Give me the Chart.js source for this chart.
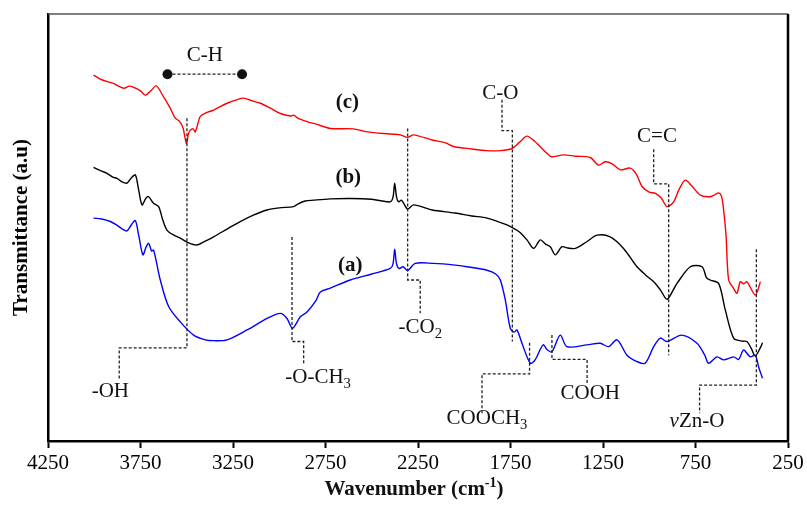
<!DOCTYPE html>
<html>
<head>
<meta charset="utf-8">
<script src="https://cdn.jsdelivr.net/npm/chart.js@4.4.0/dist/chart.umd.min.js"></script>
<style>
  html, body { margin: 0; padding: 0; background: #fff; }
  #wrap { width: 807px; height: 508px; }
</style>
</head>
<body>
<div id="wrap"><canvas id="ftirChart"></canvas></div>
<script>
// Espectros FTIR: numero de onda (cm-1) y transmitancia (u.a.)
const wnA = [4004, 3960, 3913, 3880, 3850, 3823, 3800, 3778, 3760, 3737, 3720, 3706, 3690, 3679, 3643, 3598, 3535, 3463, 3400, 3355, 3282, 3174, 3066, 2994, 2958, 2928, 2886, 2850, 2800, 2778, 2724, 2616, 2500, 2400, 2385, 2376, 2366, 2351, 2330, 2306, 2265, 2166, 2050, 1985, 1877, 1830, 1805, 1778, 1751, 1730, 1715, 1688, 1643, 1617, 1574, 1550, 1526, 1481, 1445, 1336, 1265, 1220, 1174, 1120, 1066, 1022, 976, 940, 904, 824, 742, 700, 679, 634, 598, 544, 517, 490, 454, 427, 409, 388];
const tA = [52.2, 52.0, 51.4, 50.6, 49.7, 49.2, 50.6, 51.6, 48.2, 43.6, 45.4, 46.3, 44.5, 44.7, 37.7, 31.5, 27.9, 24.8, 23.7, 23.5, 23.7, 26.0, 28.7, 29.9, 28.7, 26.4, 29.1, 30.2, 33.0, 34.9, 35.8, 37.7, 39.1, 40.4, 41.5, 44.9, 41.5, 40.4, 40.8, 39.9, 41.6, 41.6, 41.2, 40.8, 40.0, 39.1, 37.7, 33.0, 26.4, 25.5, 26.0, 22.9, 18.2, 19.0, 22.5, 21.3, 20.9, 24.8, 22.1, 22.5, 22.9, 22.1, 23.7, 20.1, 18.6, 18.2, 22.1, 24.1, 23.3, 24.8, 22.9, 20.1, 18.2, 19.7, 19.0, 19.7, 19.1, 21.3, 19.7, 20.1, 17.4, 14.7];

const wnB = [4004, 3960, 3931, 3900, 3877, 3850, 3823, 3800, 3778, 3760, 3742, 3720, 3706, 3680, 3652, 3630, 3607, 3570, 3535, 3490, 3445, 3400, 3355, 3280, 3211, 3140, 3066, 3000, 2922, 2900, 2860, 2814, 2724, 2616, 2500, 2400, 2385, 2376, 2366, 2355, 2340, 2328, 2306, 2274, 2174, 2050, 1960, 1877, 1769, 1733, 1700, 1661, 1625, 1589, 1560, 1535, 1508, 1472, 1440, 1400, 1340, 1282, 1211, 1139, 1066, 1020, 976, 940, 904, 870, 850, 778, 715, 690, 670, 625, 589, 544, 500, 472, 450, 427, 400, 388];
const tB = [64.1, 63.2, 62.7, 61.8, 61.5, 60.7, 60.4, 61.6, 62.3, 58.8, 55.3, 56.9, 57.2, 55.7, 54.9, 51.8, 49.4, 48.2, 47.5, 46.4, 45.9, 46.8, 47.8, 49.7, 51.4, 52.9, 54.1, 54.6, 54.9, 55.5, 56.2, 56.4, 56.7, 56.8, 56.6, 56.0, 57.1, 60.4, 57.1, 56.0, 56.4, 55.7, 54.3, 55.3, 54.1, 53.4, 52.7, 52.2, 50.6, 49.8, 48.9, 47.1, 45.1, 47.1, 46.1, 45.5, 43.6, 45.5, 45.2, 45.1, 46.6, 48.2, 47.8, 45.1, 40.8, 38.9, 37.3, 35.4, 33.2, 35.4, 36.9, 40.8, 40.8, 38.2, 37.7, 36.9, 30.7, 24.1, 23.4, 23.3, 21.8, 19.9, 21.8, 23.0];

const wnC = [4004, 3960, 3900, 3841, 3810, 3787, 3750, 3724, 3690, 3665, 3625, 3590, 3562, 3540, 3520, 3502, 3490, 3481, 3465, 3454, 3427, 3400, 3355, 3282, 3230, 3193, 3150, 3102, 3050, 2994, 2940, 2922, 2900, 2850, 2800, 2724, 2600, 2526, 2400, 2345, 2306, 2274, 2174, 2100, 2052, 1960, 1880, 1805, 1742, 1700, 1661, 1620, 1589, 1535, 1517, 1463, 1400, 1319, 1274, 1238, 1200, 1157, 1103, 1070, 1039, 1000, 967, 935, 904, 868, 840, 805, 770, 724, 670, 640, 625, 610, 598, 585, 571, 545, 526, 508, 490, 472, 427, 399];
const tC = [85.7, 84.6, 83.8, 82.6, 83.1, 82.8, 82.0, 81.0, 82.2, 83.2, 80.6, 78.0, 75.6, 74.9, 73.3, 69.7, 72.1, 72.8, 73.1, 72.4, 76.0, 76.8, 77.5, 79.1, 79.9, 80.3, 79.7, 79.1, 78.0, 76.7, 76.1, 76.3, 75.6, 74.8, 74.2, 73.2, 73.1, 72.4, 71.9, 71.7, 71.1, 71.7, 70.5, 69.8, 68.9, 68.4, 68.0, 68.0, 68.5, 70.0, 71.4, 70.2, 68.9, 66.7, 66.6, 67.0, 66.7, 66.4, 64.6, 65.4, 64.9, 63.5, 63.9, 62.5, 59.6, 58.3, 58.0, 56.9, 54.9, 56.0, 58.8, 61.1, 59.7, 57.6, 57.2, 57.8, 58.1, 57.4, 54.1, 48.2, 37.7, 35.8, 34.6, 37.3, 36.8, 37.3, 34.2, 37.3];

const ticksX = [4250, 3750, 3250, 2750, 2250, 1750, 1250, 750, 250];

// bandas asignadas: texto, posicion del texto y trazo punteado hasta el pico
const bandas = [
  { texto: [{ t: '-OH' }], pos: [3913, 11.5], trazo: [[3499, 75.6], [3499, 21.8], [3865, 21.8], [3865, 14.3]] },
  { texto: [{ t: '-O-CH' }, { t: '3', sub: true }], pos: [2790, 14.8], trazo: [[2931, 47.8], [2931, 23.3], [2868, 23.3], [2868, 17.8]] },
  { texto: [{ t: '-CO' }, { t: '2', sub: true }], pos: [2238, 26.5], trazo: [[2306, 73.2], [2306, 37.7], [2238, 37.7], [2238, 29.9]] },
  { texto: [{ t: 'C-O' }], pos: [1805, 81.4], trazo: [[1796, 79.9], [1796, 72.7], [1740, 72.7], [1740, 23.3]] },
  { texto: [{ t: 'COOCH' }, { t: '3', sub: true }], pos: [1877, 5.2], trazo: [[1904, 6.5], [1904, 15.7], [1647, 15.7], [1647, 23.3]] },
  { texto: [{ t: 'COOH' }], pos: [1319, 11.1], trazo: [[1526, 24.8], [1526, 19.1], [1336, 19.1], [1336, 13.1]] },
  { texto: [{ t: 'C=C' }], pos: [958, 71.4], trazo: [[976, 68.3], [976, 60.2], [895, 60.2], [895, 20.1]] },
  { texto: [{ t: 'v', it: true }, { t: 'Zn-O' }], pos: [742, 4.5], trazo: [[421, 44.9], [421, 13.1], [728, 13.1], [728, 6.5]] }
];
const etiquetas = [
  { t: '(c)', pos: [2632, 79.2] },
  { t: '(b)', pos: [2627, 61.6] },
  { t: '(a)', pos: [2616, 41.0] }
];

const serif = "'Liberation Serif', 'Times New Roman', serif";

function serie(wn, t) {
  return wn.map((x, i) => ({ x: x, y: t[i] }));
}

// texto con subindices / cursiva, centrado en (cx, cy)
function dibujarTexto(ctx, partes, cx, cy, size) {
  const fuente = (p) => (p.it ? 'italic ' : '') + (p.sub ? size * 0.7 : size) + 'px ' + serif;
  let ancho = 0;
  partes.forEach(p => { ctx.font = fuente(p); ancho += ctx.measureText(p.t).width; });
  let x = cx - ancho / 2;
  ctx.textBaseline = 'middle';
  ctx.textAlign = 'left';
  partes.forEach(p => {
    ctx.font = fuente(p);
    ctx.fillText(p.t, x, p.sub ? cy + size * 0.3 : cy);
    x += ctx.measureText(p.t).width;
  });
}

const anotaciones = {
  id: 'anotaciones',
  afterDatasetsDraw(chart) {
    const ctx = chart.ctx;
    const sx = chart.scales.x, sy = chart.scales.y;
    const px = v => sx.getPixelForValue(v);
    const py = v => sy.getPixelForValue(v);
    const area = chart.chartArea;
    ctx.save();

    // marco superior y derecho
    ctx.strokeStyle = '#555';
    ctx.lineWidth = 1.5;
    ctx.beginPath();
    ctx.moveTo(area.left, area.top);
    ctx.lineTo(area.right, area.top);
    ctx.stroke();
    ctx.strokeStyle = '#000';
    ctx.lineWidth = 2.5;
    ctx.beginPath();
    ctx.moveTo(area.right, area.top);
    ctx.lineTo(area.right, area.bottom);
    ctx.stroke();

    ctx.fillStyle = '#111';
    ctx.strokeStyle = '#222';
    ctx.lineWidth = 1.3;
    ctx.setLineDash([3, 2]);
    bandas.forEach(b => {
      ctx.beginPath();
      b.trazo.forEach((p, i) => {
        if (i === 0) ctx.moveTo(px(p[0]), py(p[1]));
        else ctx.lineTo(px(p[0]), py(p[1]));
      });
      ctx.stroke();
    });

    // C-H: dos puntos unidos con linea punteada
    const ch1 = [3604, 85.9], ch2 = [3201, 85.9];
    ctx.beginPath();
    ctx.moveTo(px(ch1[0]), py(ch1[1]));
    ctx.lineTo(px(ch2[0]), py(ch2[1]));
    ctx.stroke();
    ctx.setLineDash([]);
    [ch1, ch2].forEach(p => {
      ctx.beginPath();
      ctx.arc(px(p[0]), py(p[1]), 5, 0, Math.PI * 2);
      ctx.fill();
    });
    dibujarTexto(ctx, [{ t: 'C-H' }], px(3402), py(90.2), 21);

    bandas.forEach(b => dibujarTexto(ctx, b.texto, px(b.pos[0]), py(b.pos[1]), 21));

    ctx.font = 'bold 21px ' + serif;
    ctx.textAlign = 'center';
    ctx.textBaseline = 'middle';
    etiquetas.forEach(e => ctx.fillText(e.t, px(e.pos[0]), py(e.pos[1])));

    // titulo del eje x con superindice
    const cx = (area.left + area.right) / 2 - 4;
    const cy = 490;
    const t1 = 'Wavenumber (cm', t2 = '-1', t3 = ')';
    ctx.font = 'bold 21px ' + serif;
    const w1 = ctx.measureText(t1).width, w3 = ctx.measureText(t3).width;
    ctx.font = 'bold 14px ' + serif;
    const w2 = ctx.measureText(t2).width;
    let x = cx - (w1 + w2 + w3) / 2;
    ctx.textAlign = 'left';
    ctx.font = 'bold 21px ' + serif;
    ctx.fillText(t1, x, cy);
    x += w1;
    ctx.font = 'bold 14px ' + serif;
    ctx.fillText(t2, x, cy - 7);
    x += w2;
    ctx.font = 'bold 21px ' + serif;
    ctx.fillText(t3, x, cy);
    ctx.restore();
  }
};

const ctx = document.getElementById('ftirChart').getContext('2d');
new Chart(ctx, {
  type: 'line',
  data: {
    datasets: [
      { label: '(a)', data: serie(wnA, tA), borderColor: '#0000ff' },
      { label: '(b)', data: serie(wnB, tB), borderColor: '#000000' },
      { label: '(c)', data: serie(wnC, tC), borderColor: '#ff0000' }
    ]
  },
  options: {
    responsive: true,
    maintainAspectRatio: false,
    animation: false,
    datasets: {
      line: { borderWidth: 1.4, pointRadius: 0, tension: 0.3, fill: false }
    },
    layout: { padding: { top: 14, right: 19, left: 0, bottom: 0 } },
    plugins: { legend: { display: false }, tooltip: { enabled: false } },
    scales: {
      x: {
        type: 'linear',
        reverse: true,
        min: 250,
        max: 4250,
        afterBuildTicks: s => { s.ticks = ticksX.map(v => ({ value: v })); },
        afterFit: s => { s.height = 67; },
        ticks: {
          color: '#000', padding: 3, maxRotation: 0,
          font: { family: serif, size: 21 },
          callback: v => String(v)
        },
        grid: { drawOnChartArea: false, drawTicks: true, tickLength: 7, tickColor: '#000', tickWidth: 2 },
        border: { color: '#000', width: 2.5 }
      },
      y: {
        min: 0,
        max: 100,
        afterFit: s => { s.width = 48; },
        ticks: { display: false },
        grid: { display: false, drawTicks: false },
        border: { color: '#000', width: 2.5 },
        title: {
          display: true,
          text: 'Transmittance (a.u)',
          color: '#000',
          padding: { top: 9, bottom: 0 },
          font: { family: serif, size: 21, weight: 'bold' }
        }
      }
    }
  },
  plugins: [anotaciones]
});
</script>
</body>
</html>
